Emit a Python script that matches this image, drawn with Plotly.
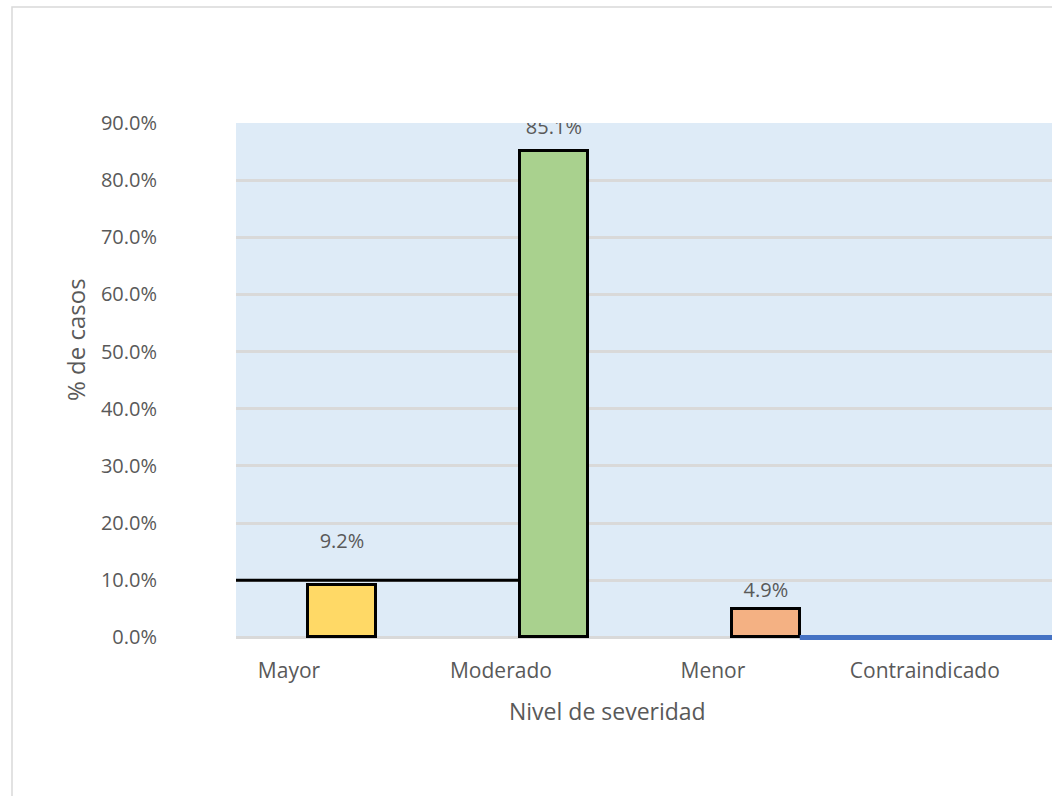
import plotly.graph_objects as go

# Severity levels and share of cases (%)
categories = ["Mayor", "Moderado", "Menor", "Contraindicado"]
pct_cases = [9.2, 85.1, 4.9, 0.0]
bar_colors = ["#ffd966", "#a9d18e", "#f4b183", "#4472c4"]
y_ticks = [0, 10, 20, 30, 40, 50, 60, 70, 80, 90]
y_tick_labels = [f"{v:.1f}%" for v in y_ticks]
reference_level = 10.0

BAR_WIDTH = 0.32
LABEL_OFFSET = -0.25
X_RANGE = [-0.5, 3.35]
Y_RANGE = [-0.8, 90]
TEXT = "#595959"
FONT = "Open Sans"
PLOT_FILL = "#deebf7"

# Canvas geometry (pixels)
W, H = 1052, 796
M_L, M_R, M_T, M_B = 236, 0, 123, 154
PLOT_W = W - M_L - M_R
PLOT_H = H - M_T - M_B


def px_x(px):
    return (px - M_L) / PLOT_W


def px_y(py):
    return (H - M_B - py) / PLOT_H


positions = list(range(len(categories)))

fig = go.Figure()

# Bars for the first three severity levels
fig.add_trace(go.Bar(
    x=positions[:3],
    y=pct_cases[:3],
    width=BAR_WIDTH,
    marker=dict(color=bar_colors[:3], line=dict(color="black", width=3)),
    showlegend=False,
    hoverinfo="skip",
))

# Reference line at 10% running up to the Moderado bar
fig.add_trace(go.Scatter(
    x=[X_RANGE[0], positions[1] - BAR_WIDTH / 2],
    y=[reference_level, reference_level],
    mode="lines",
    line=dict(color="black", width=3),
    showlegend=False,
    hoverinfo="skip",
))

# Contraindicado (0%) drawn as a flat blue segment on the baseline
fig.add_trace(go.Scatter(
    x=[positions[2] + BAR_WIDTH / 2, X_RANGE[1]],
    y=[pct_cases[3], pct_cases[3]],
    mode="lines",
    line=dict(color=bar_colors[3], width=5),
    showlegend=False,
    hoverinfo="skip",
))

# Value labels above the bars (invisible markers set the gap)
fig.add_trace(go.Scatter(
    x=positions[:3],
    y=pct_cases[:3],
    mode="markers+text",
    text=[f"{v:.1f}%" for v in pct_cases[:3]],
    textposition="top center",
    textfont=dict(family=FONT, size=20, color=TEXT),
    marker=dict(size=[49, 17, 11], color="rgba(0,0,0,0)", line=dict(width=0)),
    cliponaxis=True,
    showlegend=False,
    hoverinfo="skip",
))

# Light blue plot fill from 0% up to the top of the axis, beneath the gridlines
fig.add_shape(
    type="rect", xref="x", yref="y",
    x0=X_RANGE[0], x1=X_RANGE[1], y0=0, y1=Y_RANGE[1],
    line=dict(width=0), fillcolor=PLOT_FILL,
    layer="below",
)

# Outer chart frame
fig.add_shape(
    type="rect", xref="paper", yref="paper",
    x0=px_x(12), x1=1.2, y0=-0.6, y1=px_y(7),
    line=dict(color="#d9d9d9", width=1.5), fillcolor="rgba(0,0,0,0)",
    layer="below",
)

# Axis titles
fig.add_annotation(
    text="Nivel de severidad", xref="paper", yref="paper",
    x=px_x(607), y=px_y(711),
    showarrow=False, xanchor="center", yanchor="middle",
    font=dict(family=FONT, size=23, color=TEXT),
)
fig.add_annotation(
    text="% de casos", xref="paper", yref="paper",
    x=px_x(75), y=px_y(340), textangle=-90,
    showarrow=False, xanchor="center", yanchor="middle",
    font=dict(family=FONT, size=24, color=TEXT),
)

fig.update_layout(
    width=W, height=H,
    margin=dict(l=M_L, r=M_R, t=M_T, b=M_B),
    paper_bgcolor="white",
    plot_bgcolor="white",
    font=dict(family=FONT, color=TEXT),
    bargap=0,
)

fig.update_xaxes(
    range=X_RANGE,
    tickvals=[p + LABEL_OFFSET for p in positions],
    ticktext=categories,
    tickfont=dict(family=FONT, size=21, color=TEXT),
    showgrid=False, zeroline=False, showline=False,
    ticks="outside", ticklen=10, tickcolor="rgba(0,0,0,0)",
)

fig.update_yaxes(
    range=Y_RANGE,
    tickvals=y_ticks,
    ticktext=y_tick_labels,
    tickfont=dict(family=FONT, size=20, color=TEXT),
    showgrid=True, gridcolor="#d9d9d9", gridwidth=2.5,
    zeroline=False,
    showline=False,
    ticks="outside", ticklen=74, tickcolor="rgba(0,0,0,0)",
)

fig.write_html("out.html")
